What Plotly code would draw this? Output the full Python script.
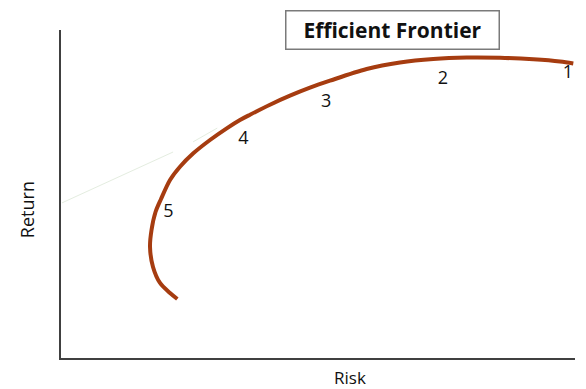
import plotly.graph_objects as go

# Efficient frontier curve (risk, return) in arbitrary units 0-100
risk = [22.63, 21.21, 19.26, 17.90, 17.32, 17.61, 18.39, 19.46, 21.21, 23.15, 25.74,
        28.99, 32.24, 34.82, 36.77, 40.66, 44.55, 48.44, 52.33, 59.47, 65.95, 72.43,
        78.93, 85.41, 91.89, 97.08, 99.67]
ret = [17.99, 19.82, 22.87, 27.74, 33.84, 39.02, 44.51, 48.48, 54.27, 58.32, 62.41,
       66.46, 70.03, 72.56, 74.18, 77.23, 79.97, 82.41, 84.54, 88.11, 90.09, 91.16,
       91.59, 91.52, 91.07, 90.40, 89.79]

# Portfolio labels
point_labels = ["1", "2", "3", "4", "5"]
label_risk = [98.6, 74.3, 51.6, 35.5, 20.9]
label_ret = [86.8, 84.8, 78.0, 66.7, 44.3]

# Faint tangent line segments
faint1_risk = [0.2, 21.8]
faint1_ret = [47.3, 62.8]
faint2_risk = [25.7, 30.4]
faint2_ret = [65.9, 70.1]

FONT = "Open Sans, sans-serif"

fig = go.Figure()
fig.add_trace(go.Scatter(x=faint1_risk, y=faint1_ret, mode="lines",
                         line=dict(color="#e4ede0", width=1), hoverinfo="skip"))
fig.add_trace(go.Scatter(x=faint2_risk, y=faint2_ret, mode="lines",
                         line=dict(color="#e4ede0", width=1), hoverinfo="skip"))
fig.add_trace(go.Scatter(x=risk, y=ret, mode="lines",
                         line=dict(color="#a63c10", width=4, shape="spline", smoothing=0.9)))
fig.add_trace(go.Scatter(x=label_risk, y=label_ret, mode="text", text=point_labels,
                         textfont=dict(family=FONT, size=18, color="#111111")))

fig.add_annotation(text="<b>Efficient Frontier</b>", xref="paper", yref="paper",
                   x=0.644, y=1.0, xanchor="center", yanchor="middle", showarrow=False,
                   font=dict(family=FONT, size=21, color="#111111"),
                   width=210, height=35, borderpad=1, bordercolor="#7a7a7a",
                   borderwidth=1.5, bgcolor="white")
fig.add_annotation(text="Risk", xref="paper", yref="paper", x=0.562, y=-0.058,
                   showarrow=False, xanchor="center", yanchor="middle",
                   font=dict(family=FONT, size=17, color="#111111"))
fig.add_annotation(text="Return", xref="paper", yref="paper", x=-0.066, y=0.451,
                   showarrow=False, xanchor="center", yanchor="middle", textangle=-90,
                   font=dict(family=FONT, size=18, color="#111111"))

fig.update_layout(
    width=586, height=389,
    margin=dict(l=61, r=11, t=30, b=31),
    paper_bgcolor="white", plot_bgcolor="white",
    showlegend=False,
    xaxis=dict(range=[0, 100], showgrid=False, zeroline=False, showticklabels=False,
               ticks="", showline=True, linecolor="#404040", linewidth=2),
    yaxis=dict(range=[0, 100], showgrid=False, zeroline=False, showticklabels=False,
               ticks="", showline=True, linecolor="#404040", linewidth=2),
)

fig.write_html("out.html", config={"displayModeBar": False},
               post_script="document.body.style.margin='0';")
